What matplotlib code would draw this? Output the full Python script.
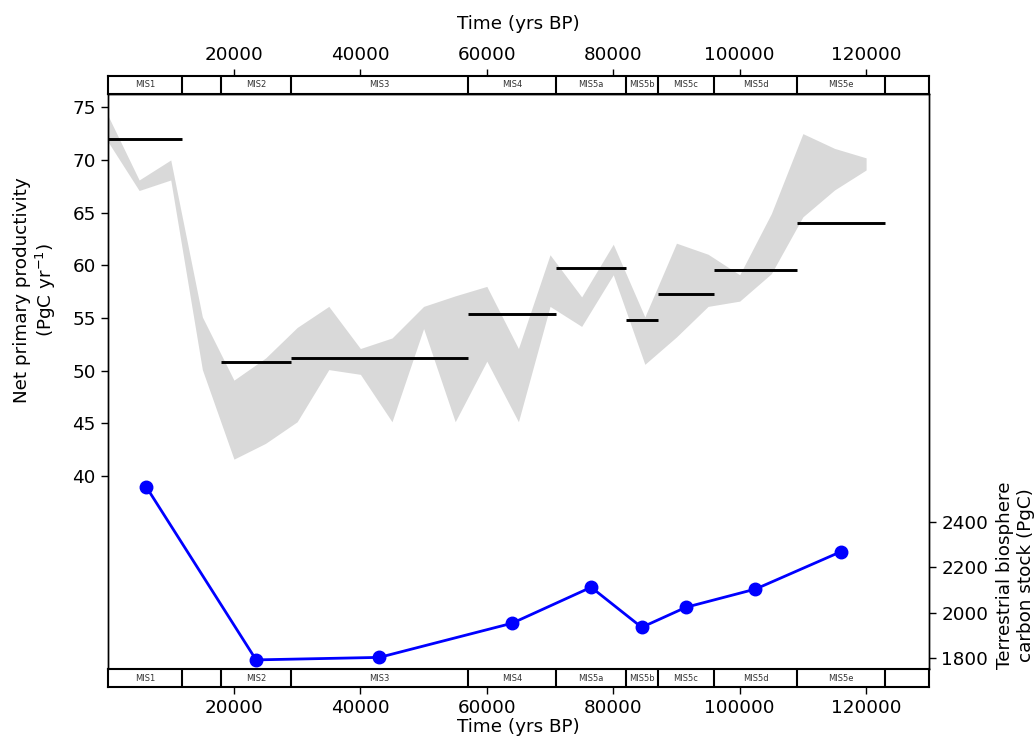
import matplotlib
matplotlib.use("Agg")
import matplotlib.pyplot as plt

# ---- data ----
mis_names = ['MIS1', 'MIS2', 'MIS3', 'MIS4', 'MIS5a', 'MIS5b', 'MIS5c', 'MIS5d', 'MIS5e']
mis_start = [0, 18000, 29000, 57000, 71000, 82000, 87000, 96000, 109000]
mis_end = [11800, 29000, 57000, 71000, 82000, 87000, 96000, 109000, 123000]
strip_bounds = [11800, 18000, 29000, 57000, 71000, 82000, 87000, 96000, 109000, 123000]

npp_mean = [72.0, 50.85, 51.2, 55.4, 59.75, 54.8, 57.3, 59.6, 64.05]

band_time = [0, 5000, 10000, 15000, 20000, 25000, 30000, 35000, 40000, 45000,
             50000, 55000, 60000, 65000, 70000, 75000, 80000, 85000, 90000,
             95000, 100000, 105000, 110000, 115000, 120000]
band_upper = [74.3, 68.1, 70.0, 55.1, 49.1, 51.2, 54.1, 56.1, 52.1, 53.1,
              56.1, 57.1, 58.0, 52.1, 61.0, 57.0, 62.0, 55.1, 62.1,
              61.05, 59.1, 64.9, 72.5, 71.1, 70.2]
band_lower = [71.8, 67.1, 68.1, 50.1, 41.6, 43.1, 45.15, 50.1, 49.65, 45.15,
              54.0, 45.15, 50.9, 45.15, 56.1, 54.2, 59.1, 50.6, 53.2,
              56.1, 56.6, 59.2, 64.6, 67.15, 69.05]

stock_time = [6100, 23500, 43000, 64000, 76500, 84500, 91500, 102500, 116000]
carbon_stock = [2554, 1793, 1804, 1954, 2112, 1936, 2024, 2104, 2268]

npp_ticks = [40, 45, 50, 55, 60, 65, 70, 75]
stock_ticks = [1800, 2000, 2200, 2400]
time_ticks = [20000, 40000, 60000, 80000, 100000, 120000]

FS = 13.2
fig = plt.figure(figsize=(10.35, 7.38), dpi=100)
L, W = 0.1039, 0.794
ax = fig.add_axes([L, 0.0935, W, 0.7791])
ax2 = ax.twinx()
top = fig.add_axes([L, 0.8726, W, 0.0248])
bot = fig.add_axes([L, 0.0687, W, 0.0248])

xlim = (0, 130000)

ax.fill_between(band_time, band_lower, band_upper, color='#d9d9d9', lw=0)
ax.hlines(npp_mean, mis_start, mis_end, color='k', lw=2.1)
ax.set_xlim(*xlim)
ax.set_ylim(21.68, 76.26)
ax.set_yticks(npp_ticks)
ax.tick_params(axis='y', labelsize=FS, length=5, width=1)
ax.tick_params(axis='x', bottom=False, labelbottom=False)
ax.set_ylabel('Net primary productivity\n(PgC yr$^{-1}$)', fontsize=FS)
ax.yaxis.set_label_coords(-0.060, 0.659)

ax2.plot(stock_time, carbon_stock, '-o', color='#0000ff', lw=2.0, ms=9)
ax2.set_ylim(1753, 4278)
ax2.set_yticks(stock_ticks)
ax2.tick_params(axis='y', labelsize=FS, length=5, width=1)
ax2.set_ylabel('Terrestrial biosphere\ncarbon stock (PgC)', fontsize=FS)
ax2.yaxis.set_label_coords(1.081, 0.163)

for a in (ax, ax2):
    for s in a.spines.values():
        s.set_linewidth(1.0)

for strip in (top, bot):
    strip.set_xlim(*xlim)
    strip.set_ylim(0, 1)
    strip.set_yticks([])
    for b in strip_bounds:
        strip.axvline(b, color='k', lw=1.5)
    for name, s, e in zip(mis_names, mis_start, mis_end):
        strip.text((s + e) / 2, 0.5, name, ha='center', va='center', fontsize=6, color='#333333')
    for sp in strip.spines.values():
        sp.set_linewidth(1.5)
    strip.set_xticks(time_ticks)
    strip.tick_params(axis='x', labelsize=FS, length=5, width=1)

top.xaxis.tick_top()
top.xaxis.set_label_position('top')
top.set_xlabel('Time (yrs BP)', fontsize=FS, labelpad=12)
bot.set_xlabel('Time (yrs BP)', fontsize=FS, labelpad=1)

fig.savefig('out.png', dpi=100)
